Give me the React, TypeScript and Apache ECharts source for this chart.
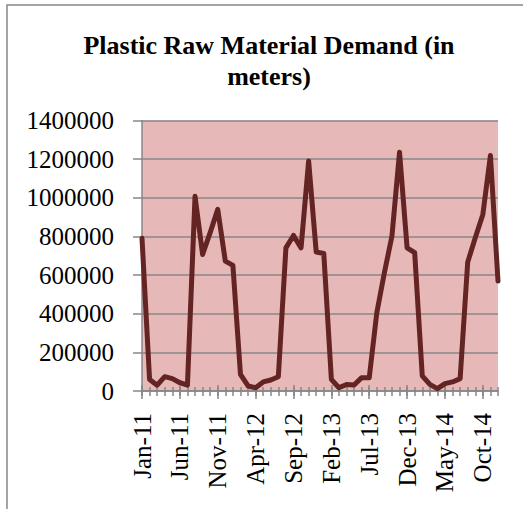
import React, { useEffect, useRef } from "react";
import * as echarts from "echarts";

const months = [
  "Jan-11", "Feb-11", "Mar-11", "Apr-11", "May-11", "Jun-11", "Jul-11", "Aug-11", "Sep-11", "Oct-11", "Nov-11", "Dec-11",
  "Jan-12", "Feb-12", "Mar-12", "Apr-12", "May-12", "Jun-12", "Jul-12", "Aug-12", "Sep-12", "Oct-12", "Nov-12", "Dec-12",
  "Jan-13", "Feb-13", "Mar-13", "Apr-13", "May-13", "Jun-13", "Jul-13", "Aug-13", "Sep-13", "Oct-13", "Nov-13", "Dec-13",
  "Jan-14", "Feb-14", "Mar-14", "Apr-14", "May-14", "Jun-14", "Jul-14", "Aug-14", "Sep-14", "Oct-14", "Nov-14", "Dec-14",
];

const demand = [
  790000, 60000, 30000, 74000, 64000, 43000, 30000, 1008000, 707000, 820000, 940000, 672000,
  650000, 86000, 26000, 17000, 47000, 57000, 74000, 741000, 805000, 741000, 1190000, 719000,
  712000, 60000, 17000, 34000, 31000, 69000, 69000, 405000, 612000, 802000, 1236000, 741000,
  716000, 78000, 34000, 12000, 38000, 47000, 64000, 667000, 793000, 914000, 1219000, 569000,
];

const titleText = "Plastic Raw Material Demand (in\nmeters)";
const yTicks = { min: 0, max: 1400000, interval: 200000 };

const FONT = "'Liberation Serif', 'Times New Roman', serif";
const GRAY = "#878787";

export default function App() {
  const ref = useRef<HTMLDivElement>(null);

  useEffect(() => {
    if (!ref.current) return;
    const chart = echarts.init(ref.current, null, { renderer: "svg" });

    const tickAxis = (interval: number, inside: boolean, length: number) => ({
      type: "category" as const,
      data: months,
      boundaryGap: false,
      position: "bottom" as const,
      axisLine: { show: false },
      axisLabel: { show: false },
      splitLine: { show: false },
      axisTick: {
        show: true,
        interval,
        inside,
        length,
        lineStyle: { color: GRAY, width: 1.5 },
      },
    });

    chart.setOption({
      animation: false,
      graphic: [
        {
          type: "rect",
          shape: { x: 7, y: 5, width: 540, height: 540 },
          style: { fill: "none", stroke: GRAY, lineWidth: 1.5 },
          silent: true,
        },
      ],
      title: {
        text: titleText,
        left: 269,
        top: 30,
        textAlign: "center",
        padding: 0,
        textStyle: {
          fontFamily: FONT,
          fontWeight: "bold",
          fontSize: 26,
          lineHeight: 31,
          color: "#000",
        },
      },
      grid: {
        left: 142,
        right: 25,
        top: 120.5,
        bottom: 118,
        show: true,
        backgroundColor: "#E6B8B7",
        borderWidth: 0,
        containLabel: false,
      },
      xAxis: [
        {
          type: "category",
          data: months,
          boundaryGap: false,
          position: "bottom",
          axisLine: { show: true, lineStyle: { color: GRAY, width: 1.5 } },
          axisTick: { show: true, interval: 0, inside: false, length: 5, lineStyle: { color: GRAY, width: 1.5 } },
          axisLabel: {
            interval: 4,
            rotate: 90,
            margin: 22,
            fontFamily: FONT,
            fontSize: 25,
            color: "#000",
          },
          splitLine: { show: false },
        },
        tickAxis(0, true, 4),
        tickAxis(4, false, 8),
        tickAxis(4, true, 6),
      ],
      yAxis: {
        type: "value",
        min: yTicks.min,
        max: yTicks.max,
        interval: yTicks.interval,
        axisLine: { show: true, lineStyle: { color: GRAY, width: 1.5 } },
        axisTick: { show: true, length: 9, lineStyle: { color: GRAY, width: 1.5 } },
        axisLabel: {
          margin: 28,
          fontFamily: FONT,
          fontSize: 25,
          color: "#000",
          formatter: (v: number) => String(v),
        },
        splitLine: { show: true, lineStyle: { color: GRAY, width: 1.5 } },
      },
      series: [
        {
          type: "line",
          data: demand,
          xAxisIndex: 0,
          showSymbol: false,
          symbol: "none",
          lineStyle: { color: "#632423", width: 5, join: "round", cap: "round" },
        },
      ],
    });

    return () => chart.dispose();
  }, []);

  return (
    <div
      ref={ref}
      style={{ position: "fixed", left: 0, top: 0, width: 523, height: 509, background: "#fff" }}
    />
  );
}
